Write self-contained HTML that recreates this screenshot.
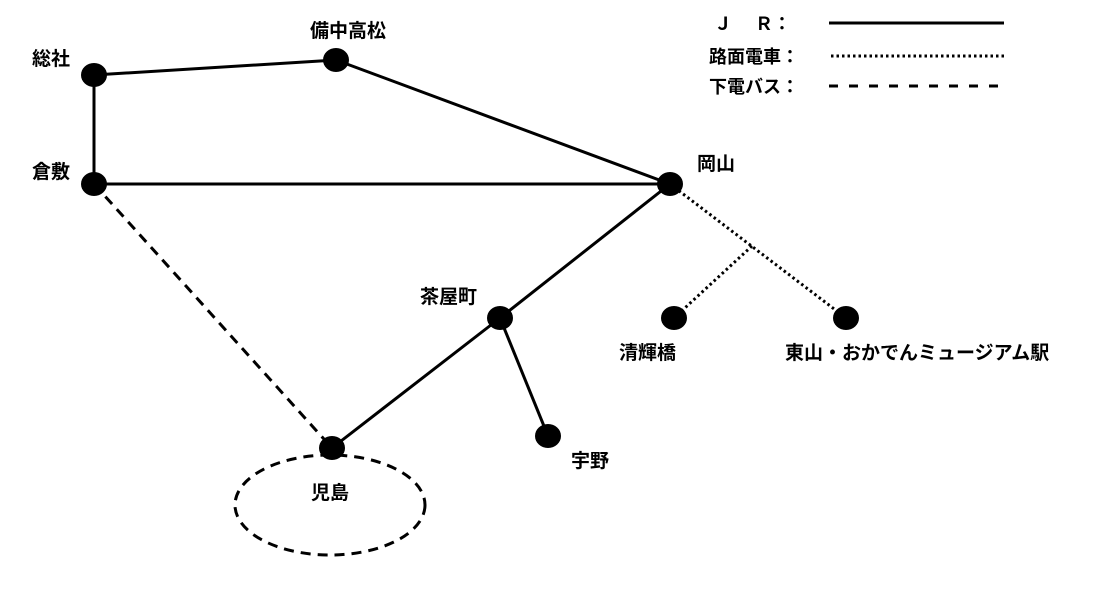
<!DOCTYPE html>
<html><head><meta charset="utf-8"><style>
html,body{margin:0;padding:0;background:#fff;}
svg text{font-family:"Liberation Sans","Noto Sans CJK JP",sans-serif;font-weight:bold;font-size:19px;fill:#000;}
svg text.lg{font-size:18px;}
</style></head><body>
<svg width="1098" height="587" viewBox="0 0 1098 587" xmlns="http://www.w3.org/2000/svg">
<g stroke="#000" stroke-width="3" fill="none">
<line x1="94" y1="75" x2="336" y2="60"/>
<line x1="94" y1="75" x2="94" y2="184"/>
<line x1="336" y1="60" x2="670" y2="184"/>
<line x1="94" y1="184" x2="670" y2="184"/>
<line x1="670" y1="184" x2="500" y2="318"/>
<line x1="500" y1="318" x2="332" y2="448"/>
<line x1="500" y1="318" x2="548" y2="436"/>
<line x1="94" y1="184" x2="332" y2="448" stroke-dasharray="10,7"/>
<ellipse cx="330" cy="505" rx="95" ry="50" stroke-dasharray="10,7"/>
<line x1="670" y1="184" x2="846" y2="318" stroke-dasharray="2.5,3"/>
<line x1="752" y1="246" x2="674" y2="318" stroke-dasharray="2.5,3"/>
<line x1="829" y1="23" x2="1004" y2="23"/>
<line x1="831" y1="56" x2="1004" y2="56" stroke-dasharray="2.5,3"/>
<line x1="829" y1="86" x2="1004" y2="86" stroke-dasharray="9,11"/>
</g>
<g fill="#000">
<ellipse cx="94" cy="75" rx="13" ry="12"/>
<ellipse cx="336" cy="60" rx="13" ry="12"/>
<ellipse cx="94" cy="184" rx="13" ry="12"/>
<ellipse cx="670" cy="184" rx="13" ry="12"/>
<ellipse cx="500" cy="318" rx="13" ry="12"/>
<ellipse cx="674" cy="318" rx="13" ry="12"/>
<ellipse cx="846" cy="318" rx="13" ry="12"/>
<ellipse cx="332" cy="448" rx="13" ry="12"/>
<ellipse cx="548" cy="436" rx="13" ry="12"/>
</g>
<text x="32" y="65">総社</text>
<text x="310" y="37">備中高松</text>
<text x="32" y="178">倉敷</text>
<text x="697" y="170">岡山</text>
<text x="420" y="303">茶屋町</text>
<text x="619" y="359">清輝橋</text>
<text x="785" y="359">東山・おかでんミュージアム駅</text>
<text x="311" y="499">児島</text>
<text x="571" y="467">宇野</text>
<text class="lg" x="714" y="30">Ｊ　 Ｒ：</text>
<text class="lg" x="709" y="63">路面電車：</text>
<text class="lg" x="709" y="93">下電バス：</text>
</svg>
</body></html>
